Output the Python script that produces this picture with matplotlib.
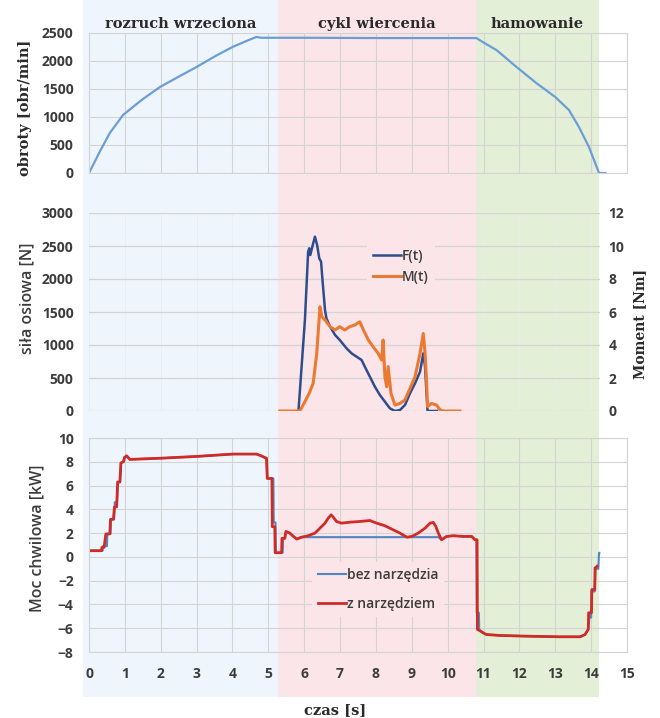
import matplotlib
matplotlib.use('Agg')
import matplotlib.pyplot as plt
from matplotlib.patches import Rectangle
from matplotlib.transforms import blended_transform_factory

# ---------------- data ----------------
phase_names = ["rozruch wrzeciona", "cykl wiercenia", "hamowanie"]
phase_edges = [-0.17, 5.27, 10.78, 14.23]
phase_colors = ["#eef5fc", "#fbe5e8", "#e3efd6"]

# spindle speed [obr/min]
rpm_t = [0, 0.3, 0.58, 0.95, 1.5, 1.98, 2.5, 3.0, 3.5, 4.0, 4.4, 4.67, 4.8,
         6.0, 8.0, 10.0, 10.8, 11.0, 11.36, 11.92, 12.47, 13.0, 13.38, 13.66,
         13.94, 14.22, 14.4]
rpm = [0, 380, 714, 1036, 1320, 1536, 1720, 1893, 2080, 2250, 2360, 2430, 2415,
       2415, 2410, 2410, 2410, 2330, 2196, 1893, 1607, 1357, 1125, 821,
       464, 0, 0]

# axial force F(t) [N]
F_t = [5.84, 6.02, 6.11, 6.14, 6.17, 6.25, 6.3, 6.36, 6.42, 6.47, 6.51,
       6.58, 6.62, 6.72, 6.86, 6.99, 7.18, 7.32, 7.46, 7.6, 7.69, 7.83, 7.97,
       8.11, 8.25, 8.39, 8.53, 8.67, 8.81, 8.95, 9.09, 9.23, 9.32, 9.37, 9.41,
       9.44, 9.7]
F = [0, 1379, 2414, 2465, 2364, 2540, 2641, 2515, 2313, 2263, 1985,
     1530, 1404, 1278, 1152, 1076, 950, 874, 823, 773, 672, 520, 369,
     242, 141, 40, 0, 15, 91, 268, 419, 596, 874, 672, 268,
     0, 0]

# torque M(t) [Nm]
M_t = [5.32, 5.88, 6.02, 6.14, 6.25, 6.35, 6.44, 6.49, 6.58, 6.72, 6.86,
       6.99, 7.13, 7.27, 7.41, 7.55, 7.65, 7.79, 7.92, 8.06, 8.16, 8.2, 8.25,
       8.3, 8.34, 8.42, 8.53, 8.67, 8.81, 8.95, 9.09, 9.23, 9.32, 9.37, 9.41,
       9.44, 9.55, 9.69, 9.79, 9.88, 10.34]
M = [0, 0, 0.57, 1.07, 1.68, 3.5, 6.32, 5.72, 5.52, 5.11, 4.91,
     5.11, 4.91, 5.11, 5.21, 5.41, 4.91, 4.3, 3.9, 3.5, 3.09, 4.3, 2.08,
     1.47, 2.69, 1.07, 0.36, 0.46, 0.67, 1.37, 2.08, 3.5, 4.7, 3.5, 1.88,
     0.26, 0.46, 0.36, 0.06, 0, 0]

# instantaneous power [kW] - without tool
P0_t = [0, 0.38, 0.39, 0.5, 0.51, 0.6, 0.61, 0.7, 0.72, 0.78, 0.8, 0.87,
        0.89, 0.96, 0.99, 1.05, 1.14, 2.0, 3.0, 4.02, 4.67, 4.8, 4.95, 4.97,
        5.14, 5.15, 5.2, 5.21, 5.4, 5.41, 5.46, 5.49, 5.6, 5.7, 5.79, 5.93,
        9.74, 9.83, 9.97, 10.16, 10.44, 10.67, 10.76, 10.8, 10.81, 10.87,
        10.88, 10.99, 11.08, 11.46, 12.2, 13.13, 13.69, 13.83, 13.92, 13.95,
        14.0, 14.01, 14.1, 14.12, 14.2, 14.22, 14.23]
P0 = [0.52, 0.52, 0.9, 0.9, 1.93, 1.93, 3.16, 3.16, 4.6, 4.6, 6.3, 6.3,
      7.9, 8.0, 8.37, 8.5, 8.2, 8.3, 8.45, 8.65, 8.65, 8.5, 8.29, 6.6,
      6.6, 2.9, 2.9, 0.35, 0.35, 1.56, 1.56, 2.14, 2.0, 1.72, 1.5, 1.66,
      1.66, 1.44, 1.72, 1.78, 1.72, 1.72, 1.44, 1.44, -4.7, -4.7,
      -6.2, -6.39, -6.53, -6.61, -6.67, -6.72, -6.72, -6.53, -6.1, -5.1,
      -5.1, -2.9, -2.9, -1.0, -1.0, 0.34, 0.34]

# instantaneous power [kW] - with tool
P1_t = [0, 0.35, 0.36, 0.42, 0.47, 0.58, 0.6, 0.68, 0.71, 0.77, 0.8, 0.86,
        0.89, 0.96, 0.99, 1.05, 1.14, 2.0, 3.0, 4.02, 4.67, 4.8, 4.95, 4.97,
        5.1, 5.11, 5.18, 5.19, 5.37, 5.38, 5.46, 5.49, 5.6, 5.7, 5.79, 5.93,
        6.11, 6.3, 6.44, 6.58, 6.67, 6.75, 6.81, 6.9, 7.04, 7.28, 7.56, 7.83,
        8.02, 8.25, 8.48, 8.67, 8.86, 9.0, 9.18, 9.37, 9.51, 9.6, 9.67, 9.74,
        9.83, 9.97, 10.16, 10.44, 10.67, 10.76, 10.82, 10.83, 10.9, 10.99,
        11.08, 11.46, 12.2, 13.13, 13.69, 13.83, 13.92, 13.93, 14.01, 14.02,
        14.1, 14.11, 14.15, 14.17]
P1 = [0.52, 0.52, 0.8, 0.8, 1.93, 1.93, 3.16, 3.16, 4.2, 4.2, 6.3, 6.3,
      7.9, 8.0, 8.37, 8.5, 8.2, 8.3, 8.45, 8.65, 8.65, 8.5, 8.29, 6.6,
      6.6, 2.54, 2.54, 0.35, 0.35, 1.56, 1.56, 2.14, 2.0, 1.72, 1.5, 1.66,
      1.78, 2.0, 2.42, 2.84, 3.26, 3.54, 3.34, 2.98, 2.84, 2.92, 2.98, 3.06,
      2.84, 2.62, 2.28, 2.0, 1.66, 1.72, 2.0, 2.42, 2.84, 2.9, 2.56, 2.0,
      1.44, 1.72, 1.78, 1.72, 1.72, 1.44, 1.44, -6.1, -6.2, -6.39,
      -6.53, -6.61, -6.67, -6.72, -6.72, -6.53, -6.1, -4.7, -4.7, -2.75,
      -2.75, -0.92, -0.85, -0.78]

x_ticks = list(range(0, 16))
rpm_ticks = [0, 500, 1000, 1500, 2000, 2500]
F_ticks = [0, 500, 1000, 1500, 2000, 2500, 3000]
M_ticks = [0, 2, 4, 6, 8, 10, 12]
P_ticks = [-8, -6, -4, -2, 0, 2, 4, 6, 8, 10]

# ---------------- style ----------------
W, H = 660, 718
SANS = ["Open Sans", "DejaVu Sans"]
SERIF = ["DejaVu Serif"]
TXT = "#3c3c3c"
GRID = "#d4d4d4"

fig = plt.figure(figsize=(W / 100, H / 100), dpi=100)


def axpos(l, t, r, b):
    return [l / W, (H - b) / H, (r - l) / W, (b - t) / H]


ax1 = fig.add_axes(axpos(89, 33, 627, 173))
ax2 = fig.add_axes(axpos(89, 213, 600, 411))
ax3 = fig.add_axes(axpos(89, 438, 627, 652))

for ax in (ax1, ax2, ax3):
    ax.set_facecolor("none")
    ax.set_axisbelow(True)
    ax.tick_params(length=0, labelsize=10, colors=TXT)

# phase shading (behind axes)
tr = blended_transform_factory(ax3.transData, fig.transFigure)
for i, name in enumerate(phase_names):
    x0, x1 = phase_edges[i], phase_edges[i + 1]
    fig.patches.append(Rectangle((x0, 0.029), x1 - x0, 0.971, transform=tr,
                                 facecolor=phase_colors[i], edgecolor="none",
                                 zorder=-1))
    fig.text((x0 + x1) / 2, 0.966, name, transform=tr, ha="center",
             va="center", fontsize=10.5, fontweight="bold", family=SERIF,
             color="#2a2a2a")

# ---- top panel ----
ax1.plot(rpm_t, rpm, color="#6b9ed6", lw=1.6)
ax1.set_xticks(x_ticks)
ax1.set_yticks(rpm_ticks)
ax1.set_xlim(0, 15)
ax1.set_ylim(0, 2500)
ax1.tick_params(labelbottom=False, pad=11)
ax1.grid(True, color=GRID, lw=0.8)
for s in ax1.spines.values():
    s.set_color(GRID)
    s.set_linewidth(0.8)

# ---- middle panel ----
ax2.plot(F_t, F, color="#2f4c8c", lw=1.8, label="F(t)")
ax2.set_yticks(F_ticks)
ax2.set_xticks(x_ticks)
ax2.set_xlim(0, 15 * 511 / 538)
ax2.set_ylim(0, 3000)
ax2.tick_params(labelbottom=False, pad=11)
ax2.grid(True, axis="y", color=GRID, lw=0.9)
ax2.grid(True, axis="x", color="#ececec", lw=0.6)
for s in ax2.spines.values():
    s.set_visible(False)

ax2r = ax2.twinx()
ax2r.plot(M_t, M, color="#ea7a33", lw=2.2, label="M(t)")
ax2r.set_yticks(M_ticks)
ax2r.set_ylim(0, 12)
ax2r.set_xlim(0, 15 * 511 / 538)
ax2r.tick_params(length=0, labelsize=10, colors=TXT, pad=6)
for s in ax2r.spines.values():
    s.set_visible(False)
h1, l1 = ax2.get_legend_handles_labels()
h2, l2 = ax2r.get_legend_handles_labels()
leg = ax2r.legend(h1 + h2, l1 + l2, loc="center left",
                  bbox_to_anchor=(0.545, 0.732), frameon=True,
                  facecolor=phase_colors[1], edgecolor="none", framealpha=1,
                  fancybox=False, borderpad=0.4, borderaxespad=0,
                  handlelength=2.0, handletextpad=0.1, labelspacing=0.5,
                  prop={"family": SANS, "size": 10, "weight": "semibold"})
for t in leg.get_texts():
    t.set_color(TXT)

# ---- bottom panel ----
ax3.plot(P0_t, P0, color="#5186c6", lw=1.5, label="bez narzędzia")
ax3.plot(P1_t, P1, color="#cf2b27", lw=2.0, label="z narzędziem")
ax3.set_xticks(x_ticks)
ax3.set_yticks(P_ticks)
ax3.set_xlim(0, 15)
ax3.set_ylim(-8, 10)
ax3.tick_params(pad=11)
ax3.grid(True, color=GRID, lw=0.8)
for s in ax3.spines.values():
    s.set_color(GRID)
    s.set_linewidth(0.8)
leg3 = ax3.legend(loc="center left", bbox_to_anchor=(0.415, 0.292),
                  frameon=True, facecolor=phase_colors[1], edgecolor="none",
                  framealpha=1, fancybox=False, borderpad=0.4,
                  borderaxespad=0, handlelength=2.0, handletextpad=0.1,
                  labelspacing=1.1,
                  prop={"family": SANS, "size": 10, "weight": "semibold"})
for t in leg3.get_texts():
    t.set_color(TXT)

for ax in (ax1, ax2, ax2r, ax3):
    for lab in ax.get_yticklabels() + ax.get_xticklabels():
        lab.set_family(SANS)
        lab.set_fontweight("bold")

# ---- axis labels ----
fig.text(25 / W, 1 - 108 / H, "obroty [obr/min]", rotation=90, ha="center",
         va="center", fontsize=10.5, fontweight="bold", family=SERIF,
         color="#2a2a2a")
fig.text(27 / W, 1 - 298 / H, "siła osiowa [N]", rotation=90, ha="center",
         va="center", fontsize=11.5, fontweight="semibold", family=SANS,
         color=TXT)
fig.text(640 / W, 1 - 324 / H, "Moment [Nm]", rotation=90, ha="center",
         va="center", fontsize=10, fontweight="bold", family=SERIF,
         color="#2a2a2a")
fig.text(37 / W, 1 - 538 / H, "Moc chwilowa [kW]", rotation=90, ha="center",
         va="center", fontsize=11.5, fontweight="semibold", family=SANS,
         color=TXT)
fig.text(335 / W, 1 - 710 / H, "czas [s]", ha="center", va="center",
         fontsize=10.5, fontweight="bold", family=SERIF, color="#2a2a2a")

fig.savefig("out.png", dpi=100)
